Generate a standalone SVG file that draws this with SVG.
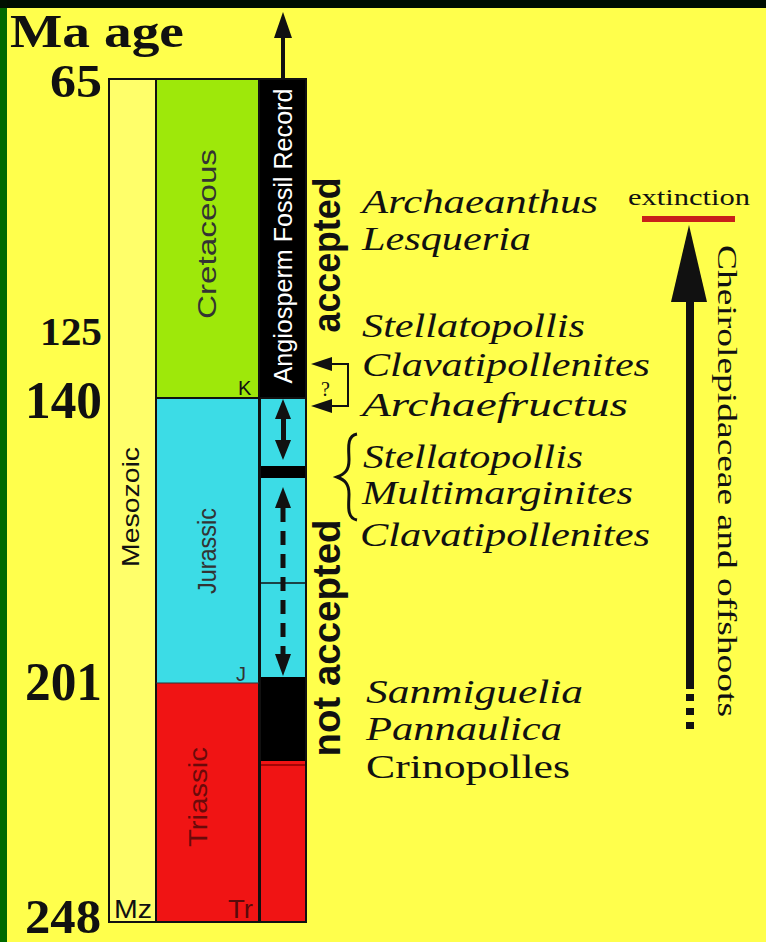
<svg xmlns="http://www.w3.org/2000/svg" width="766" height="942" viewBox="0 0 766 942">
<style>
.num{font-family:"Liberation Serif",serif;font-weight:bold;fill:#111;text-anchor:end}
.lab{font-family:"Liberation Serif",serif;font-style:italic;fill:#111;font-size:33px}
.sans{font-family:"Liberation Sans",Arial,sans-serif}
.ln{stroke:#111;stroke-width:2;fill:none}
.ar{fill:#111}
</style>
<rect x="0" y="0" width="766" height="942" fill="#ffff4c"/>
<rect x="0" y="0" width="766" height="8" fill="#000d00"/>
<rect x="0" y="0" width="7" height="942" fill="#006a00"/>
<rect x="0" y="0" width="7" height="8" fill="#001000"/>

<g id="title"><text x="10" y="47" class="num" style="text-anchor:start;font-size:47px" textLength="174" lengthAdjust="spacingAndGlyphs">Ma age</text></g>
<g id="ages">
<text x="102" y="97" class="num" style="font-size:46px" textLength="52" lengthAdjust="spacingAndGlyphs">65</text>
<text x="102" y="345" class="num" style="font-size:40px" textLength="62" lengthAdjust="spacingAndGlyphs">125</text>
<text x="102" y="418" class="num" style="font-size:53px" textLength="77" lengthAdjust="spacingAndGlyphs">140</text>
<text x="102" y="700" class="num" style="font-size:55px" textLength="77" lengthAdjust="spacingAndGlyphs">201</text>
<text x="101" y="933" class="num" style="font-size:48px" textLength="76" lengthAdjust="spacingAndGlyphs">248</text>
</g>

<g id="mesozoic">
<rect x="109" y="79" width="47" height="843" fill="#ffff6a"/>
<text transform="translate(139,507) rotate(-90)" class="sans" text-anchor="middle" font-size="24" fill="#111" textLength="120" lengthAdjust="spacingAndGlyphs">Mesozoic</text>
<text x="114" y="918" class="sans" font-size="26" fill="#111" textLength="38" lengthAdjust="spacingAndGlyphs">Mz</text>
</g>

<g id="cretaceous">
<rect x="156" y="79" width="103" height="319" fill="#9ee80a"/>
<text transform="translate(216,234) rotate(-90)" class="sans" text-anchor="middle" font-size="26" fill="#333" textLength="170" lengthAdjust="spacingAndGlyphs">Cretaceous</text>
<text x="238" y="395" class="sans" font-size="20" fill="#111">K</text>
</g>
<g id="jurassic">
<rect x="156" y="398" width="103" height="285" fill="#3cdce6"/>
<text transform="translate(216,551) rotate(-90)" class="sans" text-anchor="middle" font-size="26" fill="#333" textLength="86" lengthAdjust="spacingAndGlyphs">Jurassic</text>
<text x="236" y="681" class="sans" font-size="20" fill="#333">J</text>
</g>
<g id="triassic">
<rect x="156" y="683" width="103" height="239" fill="#f01414"/>
<text transform="translate(207,797) rotate(-90)" class="sans" text-anchor="middle" font-size="25" fill="#6a0a0a" textLength="100" lengthAdjust="spacingAndGlyphs">Triassic</text>
<text x="228" y="918" class="sans" font-size="26" fill="#5a0a0a" textLength="25" lengthAdjust="spacingAndGlyphs">Tr</text>
</g>

<g id="record">
<rect x="259" y="79" width="47" height="319" fill="#000"/>
<text transform="translate(292,236) rotate(-90)" class="sans" text-anchor="middle" font-size="25" fill="#fff" textLength="295" lengthAdjust="spacingAndGlyphs">Angiosperm Fossil Record</text>
<rect x="259" y="398" width="47" height="68" fill="#3cdce6"/>
<rect x="259" y="466" width="47" height="12" fill="#000"/>
<rect x="259" y="478" width="47" height="199" fill="#3cdce6"/>
<rect x="259" y="677" width="47" height="84" fill="#000"/>
<rect x="259" y="761" width="47" height="161" fill="#f01414"/>
<line x1="259" y1="765" x2="306" y2="765" stroke="#8a0000" stroke-width="1.5"/>
<line x1="259" y1="583" x2="306" y2="583" stroke="#111" stroke-width="1.5"/>
<line x1="260" y1="398" x2="260" y2="922" stroke="#111" stroke-width="2"/>
</g>

<g id="frame">
<rect x="109" y="79" width="197" height="843" class="ln" stroke-width="3"/>
<line x1="156" y1="79" x2="156" y2="922" class="ln"/>
<line x1="259" y1="79" x2="259" y2="922" class="ln"/>
<line x1="156" y1="398" x2="306" y2="398" class="ln"/>
<line x1="156" y1="683" x2="259" y2="683" stroke="#333" stroke-width="1"/>
</g>

<g id="status">
<text transform="translate(340,255) rotate(-90)" class="sans" text-anchor="middle" font-size="38" font-weight="bold" fill="#111" textLength="155" lengthAdjust="spacingAndGlyphs">accepted</text>
<text transform="translate(340,638) rotate(-90)" class="sans" text-anchor="middle" font-size="38" font-weight="bold" fill="#111" textLength="237" lengthAdjust="spacingAndGlyphs">not accepted</text>
</g>

<g id="labels">
<text x="362" y="213" class="lab" textLength="236" lengthAdjust="spacingAndGlyphs">Archaeanthus</text>
<text x="362" y="250" class="lab" textLength="169" lengthAdjust="spacingAndGlyphs">Lesqueria</text>
<text x="362" y="337" class="lab" textLength="223" lengthAdjust="spacingAndGlyphs">Stellatopollis</text>
<text x="362" y="376" class="lab" textLength="288" lengthAdjust="spacingAndGlyphs">Clavatipollenites</text>
<text x="362" y="416" class="lab" textLength="266" lengthAdjust="spacingAndGlyphs">Archaefructus</text>
<text x="363" y="468" class="lab" textLength="220" lengthAdjust="spacingAndGlyphs">Stellatopollis</text>
<text x="362" y="504" class="lab" textLength="271" lengthAdjust="spacingAndGlyphs">Multimarginites</text>
<text x="360" y="546" class="lab" textLength="290" lengthAdjust="spacingAndGlyphs">Clavatipollenites</text>
<text x="366" y="703" class="lab" textLength="217" lengthAdjust="spacingAndGlyphs">Sanmiguelia</text>
<text x="366" y="740" class="lab" textLength="196" lengthAdjust="spacingAndGlyphs">Pannaulica</text>
<text x="366" y="778" font-family="'Liberation Serif',serif" font-size="33" fill="#111" textLength="204" lengthAdjust="spacingAndGlyphs">Crinopolles</text>
<path d="M357,434 C346,436 349,450 349,460 C349,470 345,474 337,477 C345,480 349,484 349,494 C349,504 346,518 357,520" fill="none" stroke="#111" stroke-width="3"/>
</g>

<g id="extinction">
<text x="628" y="205" font-family="'Liberation Serif',serif" font-size="24" fill="#111" textLength="122" lengthAdjust="spacingAndGlyphs">extinction</text>
<rect x="642" y="216" width="93" height="6" fill="#c8201a"/>
<text transform="translate(718,481) rotate(90)" font-family="'Liberation Serif',serif" font-size="28" fill="#111" text-anchor="middle" textLength="472" lengthAdjust="spacingAndGlyphs">Cheirolepidaceae and offshoots</text>
</g>

<g id="connectors">
<polygon class="ar" points="283,12 274,38 292,38"/>
<rect x="281" y="37" width="4" height="42" fill="#111"/>
<polygon class="ar" points="283,399 275,419 291,419"/>
<polygon class="ar" points="283,460 275,440 291,440"/>
<rect x="281" y="417" width="5" height="25" fill="#111"/>
<polygon class="ar" points="283,487 275,508 291,508"/>
<polygon class="ar" points="283,676 275,654 291,654"/>
<line x1="283" y1="508" x2="283" y2="654" stroke="#111" stroke-width="5" stroke-dasharray="14 9"/>
<polygon class="ar" points="311,364 332,357 332,371"/>
<polygon class="ar" points="311,406 332,399 332,413"/>
<polyline points="331,364 348,364 348,406 331,406" fill="none" stroke="#111" stroke-width="2"/>
<text x="321" y="396" font-family="'Liberation Serif',serif" font-size="20" fill="#111">?</text>
<polygon class="ar" points="689,225 671,302 707,302"/>
<rect x="686" y="300" width="8" height="389" fill="#111"/>
<rect x="686" y="694" width="8" height="7" fill="#111"/>
<rect x="686" y="708" width="8" height="7" fill="#111"/>
<rect x="686" y="722" width="8" height="7" fill="#111"/>
</g>
</svg>
